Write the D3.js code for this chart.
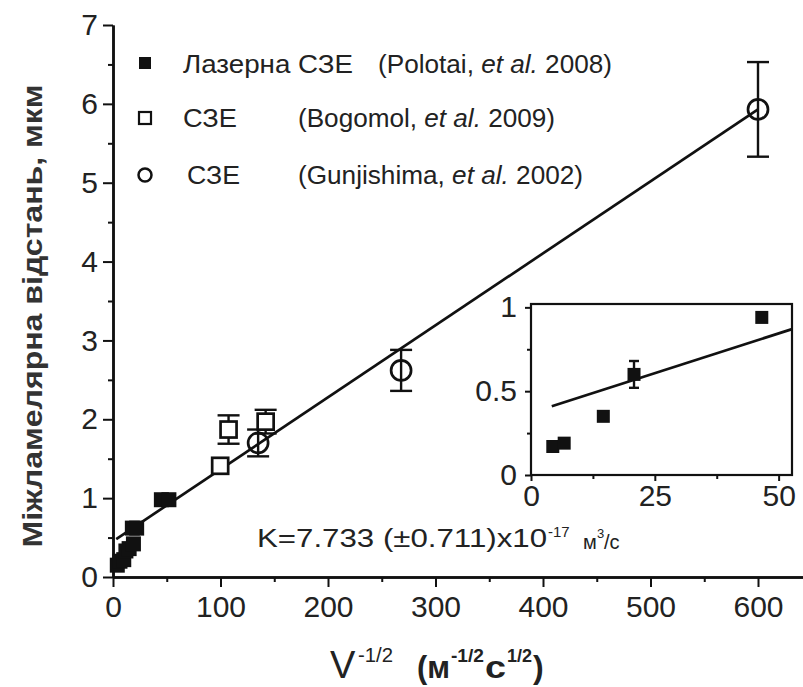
<!DOCTYPE html>
<html><head><meta charset="utf-8">
<script src="https://cdn.jsdelivr.net/npm/d3@7"></script>
<style>body{margin:0;background:#fff} svg{display:block;font-family:"Liberation Sans",Arial,sans-serif}</style>
</head><body><svg id="c" width="803" height="687"></svg>
<script>
// ---- data ----
const polotaiX = [4, 6.5, 10, 12, 15, 19, 18, 22, 45, 52];
const polotaiY = [0.15, 0.2, 0.22, 0.33, 0.36, 0.42, 0.62, 0.62, 0.98, 0.98];
const bogomolX = [99.7, 107.5, 142];
const bogomolY = [1.41, 1.87, 1.97];
const bogomolErr = [0, 0.18, 0.15];
const gunjiX = [135, 268, 600];
const gunjiY = [1.70, 2.62, 5.93];
const gunjiErr = [0.17, 0.26, 0.6];
const fitX = [3, 600];
const fitY = [0.48, 5.93];
const xTicks = [0, 100, 200, 300, 400, 500, 600];
const xMinor = [50, 150, 250, 350, 450, 550, 650];
const yTicks = [0, 1, 2, 3, 4, 5, 6, 7];
const yMinor = [0.5, 1.5, 2.5, 3.5, 4.5, 5.5, 6.5];
// inset
const insetX = [4.4, 6.7, 14.6, 20.8, 46.6];
const insetY = [0.17, 0.19, 0.35, 0.60, 0.94];
const insetErr = [0, 0, 0, 0.08, 0];
const insetFitX = [4.2, 52.7];
const insetFitY = [0.41, 0.87];
const insetXTicks = [0, 25, 50];
const insetXMinor = [12.5, 37.5];
const insetYTicks = [0, 0.5, 1];
const insetYMinor = [0.25, 0.75];
const legendLabels = ["Лазерна СЗЕ", "СЗЕ", "СЗЕ"];
const legendRefs = [["(Polotai, ", "et al.", " 2008)"], ["(Bogomol, ", "et al.", " 2009)"], ["(Gunjishima, ", "et al.", " 2002)"]];

const svg = d3.select("#c");
const ink = "#111";
const x = d3.scaleLinear().domain([0, 650]).range([113, 811.75]);
const y = d3.scaleLinear().domain([0, 7]).range([577, 25]);

// axes
function styleAxis(g) {
  g.selectAll("path.domain").attr("stroke", ink).attr("stroke-width", 2.5);
  g.selectAll(".tick line").attr("stroke", ink).attr("stroke-width", 2);
  g.selectAll("text").attr("font-size", 30).attr("fill", "#222").attr("font-family", '"Liberation Sans",Arial,sans-serif');
}
const gx = svg.append("g").attr("transform", "translate(0,577)")
  .call(d3.axisBottom(x).tickValues(xTicks).tickSize(10).tickSizeOuter(0).tickPadding(9).tickFormat(d3.format("d")));
styleAxis(gx);
const gxm = svg.append("g").attr("transform", "translate(0,577)")
  .call(d3.axisBottom(x).tickValues(xMinor).tickSize(5).tickSizeOuter(0).tickFormat(""));
styleAxis(gxm);
const gy = svg.append("g").attr("transform", "translate(113,0)")
  .call(d3.axisLeft(y).tickValues(yTicks).tickSize(10).tickSizeOuter(0).tickPadding(5).tickFormat(d3.format("d")));
styleAxis(gy);
const gym = svg.append("g").attr("transform", "translate(113,0)")
  .call(d3.axisLeft(y).tickValues(yMinor).tickSize(5).tickSizeOuter(0).tickFormat(""));
styleAxis(gym);

// fit line
svg.append("path").datum(fitX.map((v, i) => [v, fitY[i]]))
  .attr("d", d3.line().x(d => x(d[0])).y(d => y(d[1])))
  .attr("stroke", ink).attr("stroke-width", 2.7).attr("fill", "none");

// error bars helper
function errBars(g, xs, ys, es, sx, sy, cap) {
  xs.forEach((v, i) => {
    if (!es[i]) return;
    const cx = sx(v), t = sy(ys[i] + es[i]), b = sy(ys[i] - es[i]);
    g.append("line").attr("x1", cx).attr("x2", cx).attr("y1", t).attr("y2", b).attr("stroke", ink).attr("stroke-width", 2.4);
    [t, b].forEach(yy => g.append("line").attr("x1", cx - cap / 2).attr("x2", cx + cap / 2).attr("y1", yy).attr("y2", yy).attr("stroke", ink).attr("stroke-width", 2.4));
  });
}
const marks = svg.append("g");
errBars(marks, bogomolX, bogomolY, bogomolErr, x, y, 22);
errBars(marks, gunjiX, gunjiY, gunjiErr, x, y, 22);

// Polotai filled squares
marks.selectAll("rect.p").data(polotaiX).enter().append("rect")
  .attr("x", (d) => x(d) - 7.5).attr("y", (d, i) => y(polotaiY[i]) - 7.5)
  .attr("width", 15).attr("height", 15).attr("fill", ink);
// Bogomol open squares
marks.selectAll("rect.b").data(bogomolX).enter().append("rect")
  .attr("x", d => x(d) - 8).attr("y", (d, i) => y(bogomolY[i]) - 8)
  .attr("width", 16).attr("height", 16).attr("fill", "#fff").attr("stroke", ink).attr("stroke-width", 2.7);
// Gunjishima circles
marks.selectAll("circle.g").data(gunjiX).enter().append("circle")
  .attr("cx", d => x(d)).attr("cy", (d, i) => y(gunjiY[i])).attr("r", 10)
  .attr("fill", "none").attr("stroke", ink).attr("stroke-width", 2.7);

// legend
const leg = svg.append("g");
const legY = [63, 118, 175];
const legBase = [73, 127, 184];
leg.append("rect").attr("x", 139).attr("y", legY[0] - 6).attr("width", 12).attr("height", 12).attr("fill", ink);
leg.append("rect").attr("x", 139).attr("y", legY[1] - 6).attr("width", 12).attr("height", 12).attr("fill", "#fff").attr("stroke", ink).attr("stroke-width", 2.2);
leg.append("circle").attr("cx", 145).attr("cy", legY[2]).attr("r", 6.5).attr("fill", "none").attr("stroke", ink).attr("stroke-width", 2.5);
const labX = [183, 183, 187], labW = [170, 54, 53];
const refX = [378, 298, 298], refW = [234, 257, 285];
legendLabels.forEach((t, i) => {
  leg.append("text").attr("x", labX[i]).attr("y", legBase[i]).attr("font-size", 25).attr("fill", "#222")
    .attr("textLength", labW[i]).attr("lengthAdjust", "spacingAndGlyphs").text(t);
  const tt = leg.append("text").attr("x", refX[i]).attr("y", legBase[i]).attr("font-size", 25).attr("fill", "#222")
    .attr("textLength", refW[i]).attr("lengthAdjust", "spacingAndGlyphs");
  legendRefs[i].forEach((s, j) => tt.append("tspan").attr("font-style", j === 1 ? "italic" : "normal").text(s));
});

// axis titles
svg.append("text").attr("transform", "translate(42,316) rotate(-90)").attr("text-anchor", "middle")
  .attr("font-size", 27).attr("font-weight", "bold").attr("fill", "#333")
  .attr("textLength", 463).attr("lengthAdjust", "spacingAndGlyphs").text("Міжламелярна відстань, мкм");

const xt = svg.append("g").attr("fill", "#222");
xt.append("text").attr("x", 330).attr("y", 678).attr("font-size", 38).text("V");
xt.append("text").attr("x", 358).attr("y", 662).attr("font-size", 20).attr("textLength", 35).attr("lengthAdjust", "spacingAndGlyphs").text("-1/2");
xt.append("text").attr("x", 417).attr("y", 678).attr("font-size", 32).attr("font-weight", "bold").attr("textLength", 33).attr("lengthAdjust", "spacingAndGlyphs").text("(м");
xt.append("text").attr("x", 451).attr("y", 662).attr("font-size", 18).attr("font-weight", "bold").attr("textLength", 33).attr("lengthAdjust", "spacingAndGlyphs").text("-1/2");
xt.append("text").attr("x", 485).attr("y", 678).attr("font-size", 32).attr("font-weight", "bold").attr("textLength", 21).attr("lengthAdjust", "spacingAndGlyphs").text("с");
xt.append("text").attr("x", 507).attr("y", 662).attr("font-size", 18).attr("font-weight", "bold").attr("textLength", 25).attr("lengthAdjust", "spacingAndGlyphs").text("1/2");
xt.append("text").attr("x", 533).attr("y", 678).attr("font-size", 32).attr("font-weight", "bold").text(")");

// annotation
const an = svg.append("g").attr("fill", "#222");
an.append("text").attr("x", 257).attr("y", 547).attr("font-size", 25).attr("textLength", 290).attr("lengthAdjust", "spacingAndGlyphs").text("K=7.733 (±0.711)x10");
an.append("text").attr("x", 548).attr("y", 537).attr("font-size", 15).text("-17");
an.append("text").attr("x", 583).attr("y", 549).attr("font-size", 20).text("м");
an.append("text").attr("x", 597).attr("y", 538).attr("font-size", 13).text("3");
an.append("text").attr("x", 604).attr("y", 549).attr("font-size", 20).text("/с");

// inset
const ix = d3.scaleLinear().domain([0, 52.7]).range([531, 792]);
const iy = d3.scaleLinear().domain([0, 1.02]).range([475, 304]);
const ins = svg.append("g");
ins.append("rect").attr("x", 531).attr("y", 304).attr("width", 261).attr("height", 171).attr("fill", "#fff").attr("stroke", ink).attr("stroke-width", 2.2);
const ixa = ins.append("g").attr("transform", "translate(0,475)")
  .call(d3.axisBottom(ix).tickValues(insetXTicks).tickSize(6).tickSizeOuter(0).tickPadding(4).tickFormat(d3.format("d")));
styleAxis(ixa); ixa.select("path.domain").remove();
const ixm = ins.append("g").attr("transform", "translate(0,475)")
  .call(d3.axisBottom(ix).tickValues(insetXMinor).tickSize(4).tickSizeOuter(0).tickFormat(""));
styleAxis(ixm); ixm.select("path.domain").remove();
const iya = ins.append("g").attr("transform", "translate(531,0)")
  .call(d3.axisLeft(iy).tickValues(insetYTicks).tickSize(6).tickSizeOuter(0).tickPadding(8).tickFormat(d => d === 0.5 ? "0.5" : d3.format("d")(d)));
styleAxis(iya); iya.select("path.domain").remove();
const iym = ins.append("g").attr("transform", "translate(531,0)")
  .call(d3.axisLeft(iy).tickValues(insetYMinor).tickSize(4).tickSizeOuter(0).tickFormat(""));
styleAxis(iym); iym.select("path.domain").remove();
ins.append("path").datum(insetFitX.map((v, i) => [v, insetFitY[i]]))
  .attr("d", d3.line().x(d => ix(d[0])).y(d => iy(d[1])))
  .attr("stroke", ink).attr("stroke-width", 2.7).attr("fill", "none");
errBars(ins, insetX, insetY, insetErr, ix, iy, 10);
ins.selectAll("rect.ip").data(insetX).enter().append("rect")
  .attr("x", d => ix(d) - 6.5).attr("y", (d, i) => iy(insetY[i]) - 6.5)
  .attr("width", 13).attr("height", 13).attr("fill", ink);
</script></body></html>
